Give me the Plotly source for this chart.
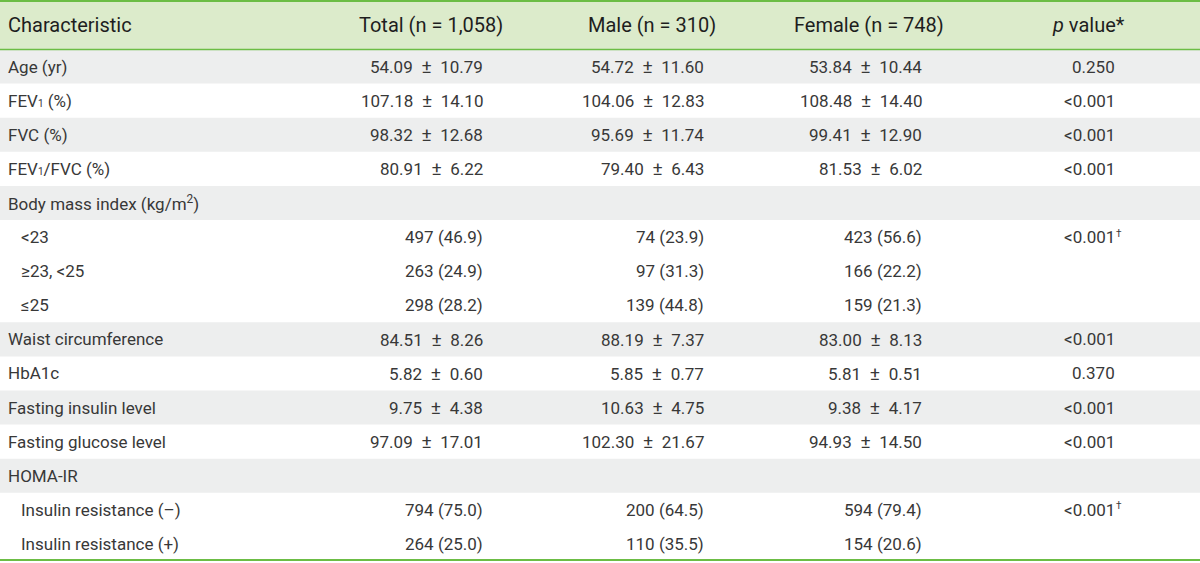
import plotly.graph_objects as go

SUB1 = '<span style="font-size:10px">1</span>'
headers = ["Characteristic", "Total (n = 1,058)", "Male (n = 310)", "Female (n = 748)", "<i>p</i> value*"]
characteristics = [
    "Age (yr)", "FEV" + SUB1 + " (%)", "FVC (%)", "FEV" + SUB1 + "/FVC (%)",
    "Body mass index (kg/m<sup>2</sup>)", "<23", "≥23, <25", "≤25",
    "Waist circumference", "HbA1c", "Fasting insulin level", "Fasting glucose level",
    "HOMA-IR", "Insulin resistance (–)", "Insulin resistance (+)",
]
indented = [False, False, False, False, False, True, True, True,
            False, False, False, False, False, True, True]
total = ["54.09 ± 10.79", "107.18 ± 14.10", "98.32 ± 12.68", "80.91 ± 6.22", "",
         "497 (46.9)", "263 (24.9)", "298 (28.2)", "84.51 ± 8.26", "5.82 ± 0.60",
         "9.75 ± 4.38", "97.09 ± 17.01", "", "794 (75.0)", "264 (25.0)"]
male = ["54.72 ± 11.60", "104.06 ± 12.83", "95.69 ± 11.74", "79.40 ± 6.43", "",
        "74 (23.9)", "97 (31.3)", "139 (44.8)", "88.19 ± 7.37", "5.85 ± 0.77",
        "10.63 ± 4.75", "102.30 ± 21.67", "", "200 (64.5)", "110 (35.5)"]
female = ["53.84 ± 10.44", "108.48 ± 14.40", "99.41 ± 12.90", "81.53 ± 6.02", "",
          "423 (56.6)", "166 (22.2)", "159 (21.3)", "83.00 ± 8.13", "5.81 ± 0.51",
          "9.38 ± 4.17", "94.93 ± 14.50", "", "594 (79.4)", "154 (20.6)"]
p_values = ["0.250", "<0.001", "<0.001", "<0.001", "", "<0.001", "", "", "<0.001",
            "0.370", "<0.001", "<0.001", "", "<0.001", ""]
p_marks = ["", "", "", "", "", "†", "", "", "", "", "", "", "", "†", ""]
shaded = [True, False, True, False, True, False, False, False,
          True, False, True, False, True, False, False]

W, H = 1200, 563
HEADER_H = 49.5
ROW_H = 34.1
FONT = "Roboto"
TXT = "#383838"
GRAY = "#edeeee"
HEAD_BG = "#dcebcb"
GREEN = "#6cbd45"

header_x = [6, 431, 652, 869, 1088]
value_right = [485, 706, 924, 1117]


def fmt(s):
    return s.replace(" ± ", '\u2002<span style="font-size:19px">±</span>\u2002')


fig = go.Figure()
fig.add_trace(go.Scatter(x=[0, W], y=[0, H], mode="markers",
                         marker=dict(opacity=0), hoverinfo="skip", showlegend=False))

shapes = []
annotations = []

shapes.append(dict(type="rect", xref="x", yref="y", x0=0, x1=W, y0=0, y1=HEADER_H,
                   fillcolor=HEAD_BG, line_width=0, layer="below"))
for i, sh in enumerate(shaded):
    y0 = HEADER_H + i * ROW_H
    if sh:
        shapes.append(dict(type="rect", xref="x", yref="y", x0=0, x1=W, y0=y0, y1=y0 + ROW_H,
                           fillcolor=GRAY, line_width=0, layer="below"))
shapes.append(dict(type="line", xref="x", yref="y", x0=0, x1=W, y0=1, y1=1,
                   line=dict(color=GREEN, width=2)))
shapes.append(dict(type="line", xref="x", yref="y", x0=0, x1=W, y0=HEADER_H, y1=HEADER_H,
                   line=dict(color=GREEN, width=1.5)))
y_end = HEADER_H + len(characteristics) * ROW_H
shapes.append(dict(type="line", xref="x", yref="y", x0=0, x1=W, y0=y_end - 1, y1=y_end - 1,
                   line=dict(color=GREEN, width=2)))

for j, h in enumerate(headers):
    annotations.append(dict(x=header_x[j], y=HEADER_H / 2, xref="x", yref="y", text=h,
                            showarrow=False, xanchor="left" if j == 0 else "center",
                            yanchor="middle", font=dict(family=FONT, size=20, color="#1e1e1e")))

for i in range(len(characteristics)):
    yc = HEADER_H + (i + 0.5) * ROW_H
    annotations.append(dict(x=19 if indented[i] else 6, y=yc, xref="x", yref="y",
                            text=characteristics[i], showarrow=False, xanchor="left",
                            yanchor="middle", font=dict(family=FONT, size=17, color=TXT)))
    for j, col in enumerate([total, male, female, p_values]):
        if col[i]:
            annotations.append(dict(x=value_right[j], y=yc, xref="x", yref="y", text=fmt(col[i]),
                                    showarrow=False, xanchor="right", yanchor="middle",
                                    font=dict(family=FONT, size=17, color=TXT)))
    if p_marks[i]:
        annotations.append(dict(x=value_right[3] - 3, y=yc - 4, xref="x", yref="y",
                                text=p_marks[i], showarrow=False, xanchor="left",
                                yanchor="middle", font=dict(family=FONT, size=10, color=TXT)))

fig.update_layout(
    width=W, height=H, margin=dict(l=0, r=0, t=0, b=0),
    paper_bgcolor="white", plot_bgcolor="white",
    xaxis=dict(range=[0, W], visible=False, fixedrange=True),
    yaxis=dict(range=[H, 0], visible=False, fixedrange=True),
    shapes=shapes, annotations=annotations, showlegend=False,
)
fig.write_html("out.html", post_script="document.body.style.margin='0';",
               config={"displayModeBar": False})
